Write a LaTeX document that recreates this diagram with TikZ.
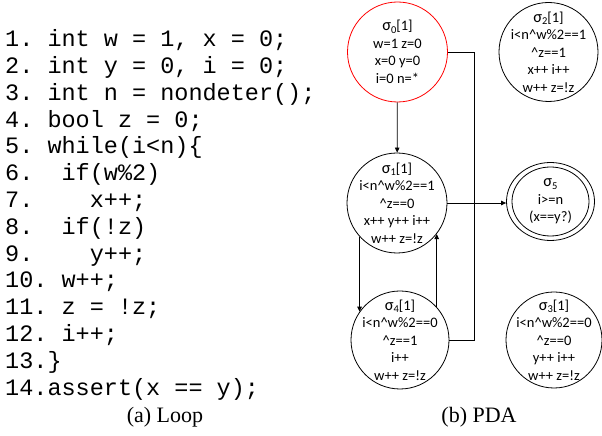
\documentclass[tikz,border=0pt]{standalone}
\usepackage{fontspec}
\setmonofont{Liberation Mono}
\setmainfont{Liberation Serif}
\newfontfamily\calib{Carlito}
\usetikzlibrary{arrows.meta,shapes.geometric}
\newcommand{\sg}[1]{{\fontsize{16.5}{17.5}\selectfont σ}\raisebox{-0.35ex}{\fontsize{10.5}{10.5}\selectfont #1}}
\begin{document}
\begin{tikzpicture}[x=1pt,y=1pt,
  state/.style={circle,draw,line width=0.8pt,inner sep=0pt},
  lbl/.style={font=\calib\fontsize{14.5}{17.5}\selectfont,align=center,inner sep=0pt},
  code/.style={font=\ttfamily\fontsize{23.5}{26.8}\selectfont,anchor=base west,inner sep=0pt},
  captxt/.style={font=\fontsize{22}{24}\selectfont,anchor=base,inner sep=0pt},
  link/.style={line width=0.8pt},
  arr/.style={link,-{Triangle[length=5pt,width=4.5pt]}}]
\useasboundingbox (0,0) rectangle (602,436);
% code listing
\node[code] (c1)  at (5,389.3) {1. int w = 1, x = 0;};
\node[code] (c2)  at (5,362.5) {2. int y = 0, i = 0;};
\node[code] (c3)  at (5,335.7) {3. int n = nondeter();};
\node[code] (c4)  at (5,308.9) {4. bool z = 0;};
\node[code] (c5)  at (5,282.1) {5. while(i<n)\{};
\node[code] (c6)  at (5,255.3) {6.\ \ if(w\%2)};
\node[code] (c7)  at (5,228.5) {7.\ \ \ \ x++;};
\node[code] (c8)  at (5,201.7) {8.\ \ if(!z)};
\node[code] (c9)  at (5,174.9) {9.\ \ \ \ y++;};
\node[code] (c10) at (5,148.1) {10. w++;};
\node[code] (c11) at (5,121.3) {11. z = !z;};
\node[code] (c12) at (5,94.5)  {12. i++;};
\node[code] (c13) at (5,67.7)  {13.\}};
\node[code] (c14) at (5,40.9)  {14.assert(x == y);};
\node[captxt] (capa) at (165,13) {(a) Loop};
\node[captxt] (capb) at (479,13) {(b) PDA};
% states
\node[state,draw=red,minimum size=100] (s0) at (397.5,384) {};
\node[state,minimum size=99] (s2) at (548.5,384) {};
\node[state,minimum size=100] (s1) at (397,233) {};
\node[state,minimum size=98] (s4) at (400,96) {};
\node[state,minimum size=96] (s3) at (554,96) {};
\node[ellipse,draw,line width=0.8pt,inner sep=0pt,minimum width=88,minimum height=78] (s5) at (550.5,234.5) {};
\draw[link] (s5.center) ellipse [x radius=38.5, y radius=34.5];
% state labels
\node[lbl] (t0) at (s0) {\sg{0}[1]\\w=1 z=0\\x=0 y=0\\i=0 n=*};
\node[lbl] (t2) at (s2) {\sg{2}[1]\\i<n\textasciicircum w\%2==1\\\textasciicircum z==1\\x++ i++\\w++ z=!z};
\node[lbl] (t1) at (s1) {\sg{1}[1]\\i<n\textasciicircum w\%2==1\\\textasciicircum z==0\\x++ y++ i++\\w++ z=!z};
\node[lbl] (t5) at (s5) {\sg{5}\\i>=n\\(x==y?)};
\node[lbl] (t4) at (s4) {\sg{4}[1]\\i<n\textasciicircum w\%2==0\\\textasciicircum z==1\\i++\\w++ z=!z};
\node[lbl] (t3) at (s3) {\sg{3}[1]\\i<n\textasciicircum w\%2==0\\\textasciicircum z==0\\y++ i++\\w++ z=!z};
% connectors
\coordinate (j) at (474,234);
\draw[arr] (s0) -- (s1);
\draw[link] (s0.east) -| (j);
\draw[link] (s4.east) -| (j);
\draw[arr] (s1.east) -- (s1.east -| s5.west);
\draw[arr] (s1.222) -- (s1.222 |- s4.145);
\draw[arr] (s4.42) -- (s4.42 |- s1.322);
\end{tikzpicture}
\end{document}
